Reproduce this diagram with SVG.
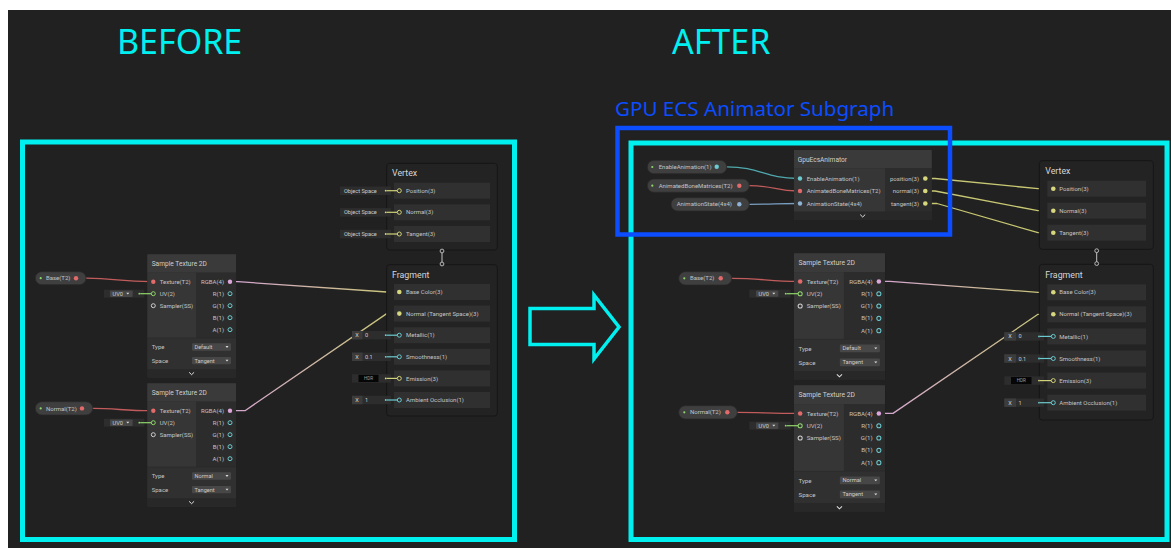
<svg xmlns="http://www.w3.org/2000/svg" width="1171" height="548" viewBox="0 0 1171 548">
<defs>
<style>
.t{font-family:Roboto,"Liberation Sans",sans-serif}
.big{font-family:"Noto Sans","Open Sans",sans-serif}
.lb{font-size:6px;fill:#c4c4c4}
.lr{font-size:6px;fill:#c4c4c4;text-anchor:end}
.tt{font-size:6.6px;fill:#cfcfcf}
.hd{font-size:8.8px;fill:#d6d6d6}
.sm{font-size:5.6px;fill:#cccccc}
.hdr{font-size:4.6px;fill:#9a9a9a;text-anchor:middle}
.stack{fill:#232323;stroke:#161616;stroke-width:1}
.slot{fill:#303030}
.fld{fill:#2d2d2d}
.fx{fill:#3c3c3c}
.pill{fill:#3f3f3f;stroke:#2a2a2a;stroke-width:0.8}
.dd{fill:#474747}
.nbody{fill:#2b2b2b}
.ntitle{fill:#3a3a3a}
.nin{fill:#363636}
.nout{fill:#2c2c2c}
.ntype{fill:#303030}
.nchev{fill:#282828}
.chev{fill:none;stroke:#e0e0e0;stroke-width:1}
.frame{fill:none;stroke:#00f0f0;stroke-width:5}
.edge{fill:none;stroke-width:1.3;stroke-linejoin:round;stroke-linecap:round}
.hy{fill:#2f2f2f;stroke:#d2d27a;stroke-width:1}
.hc{fill:#2f2f2f;stroke:#6ccbd0;stroke-width:1}
.hg{fill:#363636;stroke:#8fd66a;stroke-width:1}
.hw{fill:#363636;stroke:#cfcfcf;stroke-width:1}
.fy{fill:#d6d67c}
.fc{fill:#6ccbd0}
.fr{fill:#e26a6a}
.fp{fill:#dca6da}
.fg{fill:#8fd66a}
.fb{fill:#8fb3d6}
.ly{stroke:#d2d27a;stroke-width:1.2}
.lc{stroke:#6ccbd0;stroke-width:1.2}
.lg{stroke:#8fd66a;stroke-width:1.2}
.tri{fill:#dddddd}
.link{stroke:#c4c4c4;stroke-width:1}
.lknob{fill:#222222;stroke:#c4c4c4;stroke-width:0.9}
</style>
<linearGradient id="gL" gradientUnits="userSpaceOnUse" x1="230" y1="0" x2="399" y2="0"><stop offset="0" stop-color="#d4a4d2"/><stop offset="1" stop-color="#c8c874"/></linearGradient>
<linearGradient id="gR" gradientUnits="userSpaceOnUse" x1="879" y1="0" x2="1053" y2="0"><stop offset="0" stop-color="#d4a4d2"/><stop offset="1" stop-color="#c8c874"/></linearGradient>
</defs>
<rect x="0" y="0" width="1171" height="548" fill="#ffffff"/>
<rect x="8" y="10" width="1163" height="538" fill="#212121"/>

<text class="big" x="117" y="54" font-size="34" fill="#00f0f0">BEFORE</text>
<text class="big" x="672" y="54" font-size="34" fill="#00f0f0">AFTER</text>

<rect class="frame" x="22.5" y="142" width="492" height="397.5"/>
<rect class="frame" x="631" y="143" width="536" height="396.5"/>
<polygon points="530,308.5 594,308.5 594,295 619,327 594,359 594,344.5 530,344.5" fill="none" stroke="#00f0f0" stroke-width="3.5"/>

<g id="connectors">
<path class="edge" stroke="#c25c5c" d="M86 278.2 C 115 278.2, 120 281.7, 151 281.7"/>
<path class="edge" stroke="#c25c5c" d="M92.7 408.4 C 115 408.4, 125 410.7, 151 410.7"/>
<path class="edge" stroke="url(#gL)" d="M232 281.7 L 238 281.7 L 387 292 L 397 292"/>
<path class="edge" stroke="url(#gL)" d="M232 410.7 L 245 410.7 L 386.7 313.6 L 397 313.6"/>
<path class="edge" stroke="#4fa8ac" d="M726.7 166.8 C 760 166.8, 765 178.5, 798 178.5"/>
<path class="edge" stroke="#c25c5c" d="M749.3 185.7 C 775 185.7, 775 191, 798 191"/>
<path class="edge" stroke="#7a9ec0" d="M749.3 204.3 C 775 204.3, 775 203.5, 798 203.5"/>
<path class="edge" stroke="#c8c874" d="M927 178.5 L 935 178.5 L 1038 188.7 L 1051 188.7"/>
<path class="edge" stroke="#c8c874" d="M927 191 L 935 191 L 1038 210.7 L 1051 210.7"/>
<path class="edge" stroke="#c8c874" d="M927 203.5 L 937 203.5 L 1038 232.7 L 1051 232.7"/>
<path class="edge" stroke="#c25c5c" d="M731.7 278.3 C 760 278.3, 770 281.4, 798 281.4"/>
<path class="edge" stroke="#c25c5c" d="M737.3 412.3 C 760 412.3, 770 413.4, 798 413.4"/>
<path class="edge" stroke="url(#gR)" d="M881 281.4 L 890 281.4 L 1038 292.3 L 1051 292.3"/>
<path class="edge" stroke="url(#gR)" d="M881 413.4 L 893 413.4 L 1038 314.3 L 1051 314.3"/>
</g>

<!-- LEFT: Vertex -->
<g id="l-vertex">
<rect class="stack" x="386.7" y="163.3" width="110.6" height="86.7" rx="3"/>
<text class="t hd" x="392" y="176.3">Vertex</text>
<rect class="slot" x="394" y="182.7" width="96" height="16"/>
<rect class="slot" x="394" y="204.3" width="96" height="16"/>
<rect class="slot" x="394" y="226" width="96" height="16"/>
<text class="t lb" x="406" y="192.8">Position(3)</text>
<text class="t lb" x="406" y="214.4">Normal(3)</text>
<text class="t lb" x="406" y="236.1">Tangent(3)</text>
<rect class="fld" x="340" y="186.5" width="51" height="8.5"/>
<text class="t sm" x="344" y="192.7">Object Space</text>
<circle class="fy" cx="385.7" cy="190.7" r="0.9"/>
<line class="ly" x1="386.6" y1="190.7" x2="397.3" y2="190.7"/>
<circle class="hy" cx="399.3" cy="190.7" r="2"/>
<rect class="fld" x="340" y="208.1" width="51" height="8.5"/>
<text class="t sm" x="344" y="214.3">Object Space</text>
<circle class="fy" cx="385.7" cy="212.3" r="0.9"/>
<line class="ly" x1="386.6" y1="212.3" x2="397.3" y2="212.3"/>
<circle class="hy" cx="399.3" cy="212.3" r="2"/>
<rect class="fld" x="340" y="229.8" width="51" height="8.5"/>
<text class="t sm" x="344" y="236">Object Space</text>
<circle class="fy" cx="385.7" cy="234" r="0.9"/>
<line class="ly" x1="386.6" y1="234" x2="397.3" y2="234"/>
<circle class="hy" cx="399.3" cy="234" r="2"/>
</g>

<!-- LEFT: Fragment -->
<g id="l-fragment">
<rect class="stack" x="386.7" y="264.7" width="110.6" height="151.3" rx="3"/>
<text class="t hd" x="392" y="277.6">Fragment</text>
<rect class="slot" x="394" y="284" width="96" height="16"/>
<rect class="slot" x="394" y="305.6" width="96" height="16"/>
<rect class="slot" x="394" y="327.2" width="96" height="16"/>
<rect class="slot" x="394" y="348.8" width="96" height="16"/>
<rect class="slot" x="394" y="370.4" width="96" height="16"/>
<rect class="slot" x="394" y="392" width="96" height="16"/>
<circle class="fy" cx="399.3" cy="292" r="2.3"/>
<circle class="fy" cx="399.3" cy="313.6" r="2.3"/>
<text class="t lb" x="406" y="294.1">Base Color(3)</text>
<text class="t lb" x="406" y="315.7">Normal (Tangent Space)(3)</text>
<text class="t lb" x="406" y="337.3">Metallic(1)</text>
<text class="t lb" x="406" y="358.9">Smoothness(1)</text>
<text class="t lb" x="406" y="380.5">Emission(3)</text>
<text class="t lb" x="406" y="402.1">Ambient Occlusion(1)</text>
<rect class="fld" x="352" y="331" width="39" height="8.4"/>
<rect class="fx" x="352" y="331" width="10.5" height="8.4"/>
<text class="t sm" x="355.3" y="337.2">X</text>
<text class="t sm" x="365" y="337.2">0</text>
<circle class="fc" cx="385.7" cy="335.2" r="0.9"/>
<line class="lc" x1="386.6" y1="335.2" x2="397.3" y2="335.2"/>
<circle class="hc" cx="399.3" cy="335.2" r="2"/>
<rect class="fld" x="352" y="352.6" width="39" height="8.4"/>
<rect class="fx" x="352" y="352.6" width="10.5" height="8.4"/>
<text class="t sm" x="355.3" y="358.8">X</text>
<text class="t sm" x="365" y="358.8">0.1</text>
<circle class="fc" cx="385.7" cy="356.8" r="0.9"/>
<line class="lc" x1="386.6" y1="356.8" x2="397.3" y2="356.8"/>
<circle class="hc" cx="399.3" cy="356.8" r="2"/>
<rect class="fld" x="352" y="374.2" width="39" height="8.4"/>
<rect x="358.5" y="374.8" width="20" height="7.2" fill="#060606"/>
<text class="t hdr" x="368.5" y="380.1">HDR</text>
<circle class="fy" cx="385.7" cy="378.4" r="0.9"/>
<line class="ly" x1="386.6" y1="378.4" x2="397.3" y2="378.4"/>
<circle class="hy" cx="399.3" cy="378.4" r="2"/>
<rect class="fld" x="352" y="395.8" width="39" height="8.4"/>
<rect class="fx" x="352" y="395.8" width="10.5" height="8.4"/>
<text class="t sm" x="355.3" y="402">X</text>
<text class="t sm" x="365" y="402">1</text>
<circle class="fc" cx="385.7" cy="400" r="0.9"/>
<line class="lc" x1="386.6" y1="400" x2="397.3" y2="400"/>
<circle class="hc" cx="399.3" cy="400" r="2"/>
</g>

<g id="l-vertex-fragment-link">
<line class="link" x1="442" y1="252.3" x2="442" y2="262.6"/>
<circle class="lknob" cx="442" cy="251" r="1.9"/>
<circle class="lknob" cx="442" cy="264" r="1.9"/>
</g>

<!-- LEFT: Sample Texture 2D (1) -->
<g id="l-sample-texture-1" transform="translate(147.3,254.3)">
<rect class="nbody" x="0" y="0" width="88.7" height="123.4" rx="1.5"/>
<rect class="ntitle" x="0" y="0" width="88.7" height="18.4"/>
<rect class="nin" x="0" y="18.4" width="48.7" height="65"/>
<rect class="nout" x="48.7" y="18.4" width="40" height="65"/>
<rect class="ntype" x="0" y="84" width="88.7" height="31"/>
<rect class="nchev" x="0" y="115" width="88.7" height="8.4"/>
<text class="t tt" x="4.4" y="11.6">Sample Texture 2D</text>
<circle class="fr" cx="6" cy="27.4" r="2.2"/>
<circle class="hg" cx="6" cy="39.4" r="2"/>
<circle class="hw" cx="6" cy="51.4" r="2"/>
<text class="t lb" x="12.4" y="29.5">Texture(T2)</text>
<text class="t lb" x="12.4" y="41.5">UV(2)</text>
<text class="t lb" x="12.4" y="53.5">Sampler(SS)</text>
<circle class="fp" cx="82.7" cy="27.4" r="2.2"/>
<circle class="hc" cx="82.7" cy="39.4" r="2"/>
<circle class="hc" cx="82.7" cy="51.4" r="2"/>
<circle class="hc" cx="82.7" cy="63.4" r="2"/>
<circle class="hc" cx="82.7" cy="75.4" r="2"/>
<text class="t lr" x="76.7" y="29.5">RGBA(4)</text>
<text class="t lr" x="76.7" y="41.5">R(1)</text>
<text class="t lr" x="76.7" y="53.5">G(1)</text>
<text class="t lr" x="76.7" y="65.5">B(1)</text>
<text class="t lr" x="76.7" y="77.5">A(1)</text>
<text class="t lb" x="4.4" y="94.8">Type</text>
<rect class="dd" x="44.7" y="89" width="39" height="7.4" rx="1"/>
<text class="t sm" x="47.2" y="94.7">Default</text>
<polygon class="tri" points="78.2,91.8 81.2,91.8 79.7,93.6"/>
<text class="t lb" x="4.4" y="108.4">Space</text>
<rect class="dd" x="44.7" y="102.6" width="39" height="7.4" rx="1"/>
<text class="t sm" x="47.2" y="108.3">Tangent</text>
<polygon class="tri" points="78.2,105.4 81.2,105.4 79.7,107.2"/>
<polyline class="chev" points="41.8,118 44.3,120.4 46.8,118"/>
</g>

<!-- LEFT: Sample Texture 2D (2) -->
<g id="l-sample-texture-2" transform="translate(147.3,383.3)">
<rect class="nbody" x="0" y="0" width="88.7" height="123.4" rx="1.5"/>
<rect class="ntitle" x="0" y="0" width="88.7" height="18.4"/>
<rect class="nin" x="0" y="18.4" width="48.7" height="65"/>
<rect class="nout" x="48.7" y="18.4" width="40" height="65"/>
<rect class="ntype" x="0" y="84" width="88.7" height="31"/>
<rect class="nchev" x="0" y="115" width="88.7" height="8.4"/>
<text class="t tt" x="4.4" y="11.6">Sample Texture 2D</text>
<circle class="fr" cx="6" cy="27.4" r="2.2"/>
<circle class="hg" cx="6" cy="39.4" r="2"/>
<circle class="hw" cx="6" cy="51.4" r="2"/>
<text class="t lb" x="12.4" y="29.5">Texture(T2)</text>
<text class="t lb" x="12.4" y="41.5">UV(2)</text>
<text class="t lb" x="12.4" y="53.5">Sampler(SS)</text>
<circle class="fp" cx="82.7" cy="27.4" r="2.2"/>
<circle class="hc" cx="82.7" cy="39.4" r="2"/>
<circle class="hc" cx="82.7" cy="51.4" r="2"/>
<circle class="hc" cx="82.7" cy="63.4" r="2"/>
<circle class="hc" cx="82.7" cy="75.4" r="2"/>
<text class="t lr" x="76.7" y="29.5">RGBA(4)</text>
<text class="t lr" x="76.7" y="41.5">R(1)</text>
<text class="t lr" x="76.7" y="53.5">G(1)</text>
<text class="t lr" x="76.7" y="65.5">B(1)</text>
<text class="t lr" x="76.7" y="77.5">A(1)</text>
<text class="t lb" x="4.4" y="94.8">Type</text>
<rect class="dd" x="44.7" y="89" width="39" height="7.4" rx="1"/>
<text class="t sm" x="47.2" y="94.7">Normal</text>
<polygon class="tri" points="78.2,91.8 81.2,91.8 79.7,93.6"/>
<text class="t lb" x="4.4" y="108.4">Space</text>
<rect class="dd" x="44.7" y="102.6" width="39" height="7.4" rx="1"/>
<text class="t sm" x="47.2" y="108.3">Tangent</text>
<polygon class="tri" points="78.2,105.4 81.2,105.4 79.7,107.2"/>
<polyline class="chev" points="41.8,118 44.3,120.4 46.8,118"/>
</g>

<!-- LEFT: properties -->
<g id="l-base-prop">
<rect class="pill" x="35.3" y="271.7" width="50.7" height="13" rx="6.5"/>
<circle class="fg" cx="40.7" cy="278.2" r="1.1"/>
<text class="t lb" x="46" y="280.3">Base(T2)</text>
<circle class="fr" cx="76" cy="278.2" r="2.2"/>
</g>
<g id="l-uv0-1">
<rect class="fld" x="104" y="289.7" width="40.3" height="8"/>
<rect class="dd" x="110" y="290.5" width="22.7" height="6.4" rx="0.8"/>
<text class="t sm" x="112.5" y="295.8">UV0</text>
<polygon class="tri" points="126.3,292.8 129.3,292.8 127.8,294.6"/>
<circle class="fg" cx="139.3" cy="293.7" r="0.9"/>
<line class="lg" x1="140.2" y1="293.7" x2="151.3" y2="293.7"/>
</g>
<g id="l-normal-prop">
<rect class="pill" x="35.3" y="401.7" width="57.4" height="13.3" rx="6.6"/>
<circle class="fg" cx="40.7" cy="408.4" r="1.1"/>
<text class="t lb" x="46" y="410.5">Normal(T2)</text>
<circle class="fr" cx="82" cy="408.4" r="2.2"/>
</g>
<g id="l-uv0-2">
<rect class="fld" x="104" y="418.7" width="40.3" height="8"/>
<rect class="dd" x="110" y="419.5" width="22.7" height="6.4" rx="0.8"/>
<text class="t sm" x="112.5" y="424.8">UV0</text>
<polygon class="tri" points="126.3,421.8 129.3,421.8 127.8,423.6"/>
<circle class="fg" cx="139.3" cy="422.7" r="0.9"/>
<line class="lg" x1="140.2" y1="422.7" x2="151.3" y2="422.7"/>
</g>

<!-- RIGHT: subgraph highlight -->
<g id="subgraph-label">
<text class="big" x="615" y="116" font-size="20.6" fill="#0b4dff">GPU ECS Animator Subgraph</text>
</g>

<!-- RIGHT: properties -->
<g id="r-enable-prop">
<rect class="pill" x="647.3" y="160.3" width="79.4" height="13.4" rx="6.7"/>
<circle class="fg" cx="652.3" cy="167" r="1.1"/>
<text class="t lb" x="658.7" y="169.1">EnableAnimation(1)</text>
<circle class="fc" cx="716.7" cy="166.8" r="2.2"/>
</g>
<g id="r-bones-prop">
<rect class="pill" x="647.3" y="179" width="102" height="13.3" rx="6.6"/>
<circle class="fg" cx="652.3" cy="185.7" r="1.1"/>
<text class="t lb" x="658.7" y="187.8">AnimatedBoneMatrices(T2)</text>
<circle class="fr" cx="739.3" cy="185.7" r="2.2"/>
</g>
<g id="r-state-prop">
<rect class="pill" x="671" y="197.7" width="78.3" height="13.3" rx="6.6"/>
<text class="t lb" x="676.7" y="206.4">AnimationState(4x4)</text>
<circle class="fb" cx="739.3" cy="204.3" r="2.2"/>
</g>

<!-- RIGHT: GpuEcsAnimator -->
<g id="r-gpu-ecs-animator">
<rect class="nbody" x="794" y="150" width="137.7" height="70" rx="1.5"/>
<rect class="ntitle" x="794" y="150" width="137.7" height="18.3"/>
<rect class="nin" x="794" y="168.3" width="91" height="43.4"/>
<rect class="nout" x="885" y="168.3" width="46.7" height="43.4"/>
<rect class="nchev" x="794" y="211.7" width="137.7" height="8.3"/>
<text class="t tt" x="797.7" y="162">GpuEcsAnimator</text>
<circle class="fc" cx="800" cy="178.5" r="2.2"/>
<circle class="fr" cx="800" cy="191" r="2.2"/>
<circle class="fb" cx="800" cy="203.5" r="2.2"/>
<text class="t lb" x="806.7" y="180.6">EnableAnimation(1)</text>
<text class="t lb" x="806.7" y="193.1">AnimatedBoneMatrices(T2)</text>
<text class="t lb" x="806.7" y="205.6">AnimationState(4x4)</text>
<circle class="fy" cx="925.3" cy="178.5" r="2.3"/>
<circle class="fy" cx="925.3" cy="191" r="2.3"/>
<circle class="fy" cx="925.3" cy="203.5" r="2.3"/>
<text class="t lr" x="919" y="180.6">position(3)</text>
<text class="t lr" x="919" y="193.1">normal(3)</text>
<text class="t lr" x="919" y="205.6">tangent(3)</text>
<polyline class="chev" points="860.2,214.6 862.7,217 865.2,214.6"/>
</g>

<!-- RIGHT: Vertex -->
<g id="r-vertex">
<rect class="stack" x="1039.3" y="160.7" width="114" height="88.6" rx="3"/>
<text class="t hd" x="1045.3" y="173.8">Vertex</text>
<rect class="slot" x="1047.3" y="180.7" width="98.7" height="16"/>
<rect class="slot" x="1047.3" y="202.7" width="98.7" height="16"/>
<rect class="slot" x="1047.3" y="224.7" width="98.7" height="16"/>
<circle class="fy" cx="1053.3" cy="188.7" r="2.3"/>
<circle class="fy" cx="1053.3" cy="210.7" r="2.3"/>
<circle class="fy" cx="1053.3" cy="232.7" r="2.3"/>
<text class="t lb" x="1059.3" y="190.8">Position(3)</text>
<text class="t lb" x="1059.3" y="212.8">Normal(3)</text>
<text class="t lb" x="1059.3" y="234.8">Tangent(3)</text>
</g>

<!-- RIGHT: Fragment -->
<g id="r-fragment">
<rect class="stack" x="1039.3" y="264.3" width="114" height="155.7" rx="3"/>
<text class="t hd" x="1045.3" y="277.6">Fragment</text>
<rect class="slot" x="1047.3" y="284.3" width="98.7" height="16"/>
<rect class="slot" x="1047.3" y="306.3" width="98.7" height="16"/>
<rect class="slot" x="1047.3" y="328.4" width="98.7" height="16"/>
<rect class="slot" x="1047.3" y="350.5" width="98.7" height="16"/>
<rect class="slot" x="1047.3" y="372.6" width="98.7" height="16"/>
<rect class="slot" x="1047.3" y="394.7" width="98.7" height="16"/>
<circle class="fy" cx="1053.3" cy="292.3" r="2.3"/>
<circle class="fy" cx="1053.3" cy="314.3" r="2.3"/>
<text class="t lb" x="1059.3" y="294.4">Base Color(3)</text>
<text class="t lb" x="1059.3" y="316.4">Normal (Tangent Space)(3)</text>
<text class="t lb" x="1059.3" y="338.5">Metallic(1)</text>
<text class="t lb" x="1059.3" y="360.6">Smoothness(1)</text>
<text class="t lb" x="1059.3" y="382.7">Emission(3)</text>
<text class="t lb" x="1059.3" y="404.8">Ambient Occlusion(1)</text>
<rect class="fld" x="1004.3" y="332.2" width="39.7" height="8.4"/>
<rect class="fx" x="1004.3" y="332.2" width="11.7" height="8.4"/>
<text class="t sm" x="1008.2" y="338.4">X</text>
<text class="t sm" x="1018.5" y="338.4">0</text>
<circle class="fc" cx="1039" cy="336.4" r="0.9"/>
<line class="lc" x1="1040" y1="336.4" x2="1051.3" y2="336.4"/>
<circle class="hc" cx="1053.3" cy="336.4" r="2"/>
<rect class="fld" x="1004.3" y="354.3" width="39.7" height="8.4"/>
<rect class="fx" x="1004.3" y="354.3" width="11.7" height="8.4"/>
<text class="t sm" x="1008.2" y="360.5">X</text>
<text class="t sm" x="1018.5" y="360.5">0.1</text>
<circle class="fc" cx="1039" cy="358.5" r="0.9"/>
<line class="lc" x1="1040" y1="358.5" x2="1051.3" y2="358.5"/>
<circle class="hc" cx="1053.3" cy="358.5" r="2"/>
<rect class="fld" x="1004.3" y="376.4" width="39.7" height="8.4"/>
<rect x="1011" y="377" width="20.5" height="7.2" fill="#060606"/>
<text class="t hdr" x="1021.2" y="382.3">HDR</text>
<circle class="fy" cx="1039" cy="380.6" r="0.9"/>
<line class="ly" x1="1040" y1="380.6" x2="1051.3" y2="380.6"/>
<circle class="hy" cx="1053.3" cy="380.6" r="2"/>
<rect class="fld" x="1004.3" y="398.5" width="39.7" height="8.4"/>
<rect class="fx" x="1004.3" y="398.5" width="11.7" height="8.4"/>
<text class="t sm" x="1008.2" y="404.7">X</text>
<text class="t sm" x="1018.5" y="404.7">1</text>
<circle class="fc" cx="1039" cy="402.7" r="0.9"/>
<line class="lc" x1="1040" y1="402.7" x2="1051.3" y2="402.7"/>
<circle class="hc" cx="1053.3" cy="402.7" r="2"/>
</g>

<g id="r-vertex-fragment-link">
<line class="link" x1="1096.7" y1="252" x2="1096.7" y2="262.2"/>
<circle class="lknob" cx="1096.7" cy="250.7" r="1.9"/>
<circle class="lknob" cx="1096.7" cy="263.6" r="1.9"/>
</g>

<!-- RIGHT: Sample Texture 2D (1) -->
<g id="r-sample-texture-1" transform="translate(794,253.3) scale(1.026)">
<rect class="nbody" x="0" y="0" width="88.7" height="123.4" rx="1.5"/>
<rect class="ntitle" x="0" y="0" width="88.7" height="18.4"/>
<rect class="nin" x="0" y="18.4" width="48.7" height="65"/>
<rect class="nout" x="48.7" y="18.4" width="40" height="65"/>
<rect class="ntype" x="0" y="84" width="88.7" height="31"/>
<rect class="nchev" x="0" y="115" width="88.7" height="8.4"/>
<text class="t tt" x="4.4" y="11.6">Sample Texture 2D</text>
<circle class="fr" cx="6" cy="27.4" r="2.2"/>
<circle class="hg" cx="6" cy="39.4" r="2"/>
<circle class="hw" cx="6" cy="51.4" r="2"/>
<text class="t lb" x="12.4" y="29.5">Texture(T2)</text>
<text class="t lb" x="12.4" y="41.5">UV(2)</text>
<text class="t lb" x="12.4" y="53.5">Sampler(SS)</text>
<circle class="fp" cx="82.7" cy="27.4" r="2.2"/>
<circle class="hc" cx="82.7" cy="39.4" r="2"/>
<circle class="hc" cx="82.7" cy="51.4" r="2"/>
<circle class="hc" cx="82.7" cy="63.4" r="2"/>
<circle class="hc" cx="82.7" cy="75.4" r="2"/>
<text class="t lr" x="76.7" y="29.5">RGBA(4)</text>
<text class="t lr" x="76.7" y="41.5">R(1)</text>
<text class="t lr" x="76.7" y="53.5">G(1)</text>
<text class="t lr" x="76.7" y="65.5">B(1)</text>
<text class="t lr" x="76.7" y="77.5">A(1)</text>
<text class="t lb" x="4.4" y="94.8">Type</text>
<rect class="dd" x="44.7" y="89" width="39" height="7.4" rx="1"/>
<text class="t sm" x="47.2" y="94.7">Default</text>
<polygon class="tri" points="78.2,91.8 81.2,91.8 79.7,93.6"/>
<text class="t lb" x="4.4" y="108.4">Space</text>
<rect class="dd" x="44.7" y="102.6" width="39" height="7.4" rx="1"/>
<text class="t sm" x="47.2" y="108.3">Tangent</text>
<polygon class="tri" points="78.2,105.4 81.2,105.4 79.7,107.2"/>
<polyline class="chev" points="41.8,118 44.3,120.4 46.8,118"/>
</g>

<!-- RIGHT: Sample Texture 2D (2) -->
<g id="r-sample-texture-2" transform="translate(794,385.3) scale(1.026)">
<rect class="nbody" x="0" y="0" width="88.7" height="123.4" rx="1.5"/>
<rect class="ntitle" x="0" y="0" width="88.7" height="18.4"/>
<rect class="nin" x="0" y="18.4" width="48.7" height="65"/>
<rect class="nout" x="48.7" y="18.4" width="40" height="65"/>
<rect class="ntype" x="0" y="84" width="88.7" height="31"/>
<rect class="nchev" x="0" y="115" width="88.7" height="8.4"/>
<text class="t tt" x="4.4" y="11.6">Sample Texture 2D</text>
<circle class="fr" cx="6" cy="27.4" r="2.2"/>
<circle class="hg" cx="6" cy="39.4" r="2"/>
<circle class="hw" cx="6" cy="51.4" r="2"/>
<text class="t lb" x="12.4" y="29.5">Texture(T2)</text>
<text class="t lb" x="12.4" y="41.5">UV(2)</text>
<text class="t lb" x="12.4" y="53.5">Sampler(SS)</text>
<circle class="fp" cx="82.7" cy="27.4" r="2.2"/>
<circle class="hc" cx="82.7" cy="39.4" r="2"/>
<circle class="hc" cx="82.7" cy="51.4" r="2"/>
<circle class="hc" cx="82.7" cy="63.4" r="2"/>
<circle class="hc" cx="82.7" cy="75.4" r="2"/>
<text class="t lr" x="76.7" y="29.5">RGBA(4)</text>
<text class="t lr" x="76.7" y="41.5">R(1)</text>
<text class="t lr" x="76.7" y="53.5">G(1)</text>
<text class="t lr" x="76.7" y="65.5">B(1)</text>
<text class="t lr" x="76.7" y="77.5">A(1)</text>
<text class="t lb" x="4.4" y="94.8">Type</text>
<rect class="dd" x="44.7" y="89" width="39" height="7.4" rx="1"/>
<text class="t sm" x="47.2" y="94.7">Normal</text>
<polygon class="tri" points="78.2,91.8 81.2,91.8 79.7,93.6"/>
<text class="t lb" x="4.4" y="108.4">Space</text>
<rect class="dd" x="44.7" y="102.6" width="39" height="7.4" rx="1"/>
<text class="t sm" x="47.2" y="108.3">Tangent</text>
<polygon class="tri" points="78.2,105.4 81.2,105.4 79.7,107.2"/>
<polyline class="chev" points="41.8,118 44.3,120.4 46.8,118"/>
</g>

<!-- RIGHT: properties for textures -->
<g id="r-base-prop">
<rect class="pill" x="678.7" y="271.7" width="53" height="13.3" rx="6.6"/>
<circle class="fg" cx="684.3" cy="278.3" r="1.1"/>
<text class="t lb" x="690" y="280.4">Base(T2)</text>
<circle class="fr" cx="720.7" cy="278.3" r="2.2"/>
</g>
<g id="r-uv0-1">
<rect class="fld" x="749.3" y="289.6" width="41.4" height="8"/>
<rect class="dd" x="756" y="290.4" width="22.3" height="6.4" rx="0.8"/>
<text class="t sm" x="758.5" y="295.7">UV0</text>
<polygon class="tri" points="772.3,292.7 775.3,292.7 773.8,294.5"/>
<circle class="fg" cx="785.7" cy="293.7" r="0.9"/>
<line class="lg" x1="786.6" y1="293.7" x2="798" y2="293.7"/>
</g>
<g id="r-normal-prop">
<rect class="pill" x="678.7" y="405.7" width="58.6" height="13.3" rx="6.6"/>
<circle class="fg" cx="684.3" cy="412.3" r="1.1"/>
<text class="t lb" x="690" y="414.4">Normal(T2)</text>
<circle class="fr" cx="727.3" cy="412.3" r="2.2"/>
</g>
<g id="r-uv0-2">
<rect class="fld" x="749.3" y="421.7" width="41.4" height="8"/>
<rect class="dd" x="756" y="422.5" width="22.3" height="6.4" rx="0.8"/>
<text class="t sm" x="758.5" y="427.8">UV0</text>
<polygon class="tri" points="772.3,424.8 775.3,424.8 773.8,426.6"/>
<circle class="fg" cx="785.7" cy="425.7" r="0.9"/>
<line class="lg" x1="786.6" y1="425.7" x2="798" y2="425.7"/>
</g>

<rect x="617.5" y="128" width="332.5" height="106.5" fill="none" stroke="#0b4dff" stroke-width="4.5"/>
</svg>
